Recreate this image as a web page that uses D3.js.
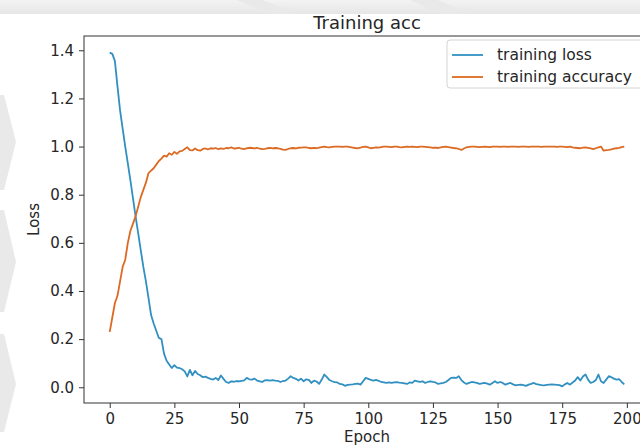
<!DOCTYPE html>
<html>
<head>
<meta charset="utf-8">
<script src="https://cdn.jsdelivr.net/npm/d3@7"></script>
<style>
  body { margin: 0; background: #fff; }
  text { font-family: "DejaVu Sans", sans-serif; fill: #262626; }
</style>
</head>
<body>
<svg id="graph" width="640" height="446"></svg>
<script>
// training loss per epoch (0..199)
const lossValues = [
  1.390, 1.385, 1.355, 1.250, 1.150, 1.075, 1.000, 0.930, 0.860, 0.785,
  0.710, 0.640, 0.570, 0.500, 0.440, 0.370, 0.300, 0.265, 0.235, 0.205,
  0.200, 0.140, 0.110, 0.095, 0.080, 0.092, 0.082, 0.080, 0.075, 0.066,
  0.045, 0.072, 0.050, 0.068, 0.055, 0.050, 0.042, 0.044, 0.039, 0.035,
  0.032, 0.039, 0.030, 0.049, 0.035, 0.022, 0.018, 0.025, 0.023, 0.026,
  0.025, 0.027, 0.029, 0.039, 0.033, 0.032, 0.036, 0.028, 0.025, 0.022,
  0.029, 0.030, 0.028, 0.030, 0.028, 0.027, 0.022, 0.026, 0.028, 0.036,
  0.046, 0.039, 0.035, 0.028, 0.036, 0.025, 0.033, 0.031, 0.018, 0.028,
  0.024, 0.014, 0.032, 0.053, 0.042, 0.030, 0.025, 0.021, 0.020, 0.014,
  0.012, 0.006, 0.010, 0.011, 0.012, 0.014, 0.015, 0.011, 0.025, 0.039,
  0.035, 0.031, 0.028, 0.031, 0.027, 0.022, 0.020, 0.018, 0.020, 0.018,
  0.020, 0.021, 0.019, 0.018, 0.016, 0.014, 0.020, 0.018, 0.028, 0.025,
  0.022, 0.025, 0.018, 0.022, 0.025, 0.022, 0.020, 0.014, 0.016, 0.018,
  0.022, 0.030, 0.039, 0.040, 0.039, 0.046, 0.030, 0.020, 0.014, 0.018,
  0.022, 0.020, 0.018, 0.014, 0.016, 0.018, 0.015, 0.011, 0.018, 0.025,
  0.018, 0.022, 0.018, 0.011, 0.015, 0.018, 0.012, 0.008, 0.010, 0.011,
  0.009, 0.006, 0.011, 0.014, 0.018, 0.013, 0.011, 0.009, 0.008, 0.010,
  0.011, 0.012, 0.011, 0.010, 0.009, 0.004, 0.012, 0.018, 0.011, 0.020,
  0.028, 0.042, 0.028, 0.045, 0.053, 0.032, 0.018, 0.022, 0.030, 0.053,
  0.025, 0.018, 0.032, 0.046, 0.042, 0.036, 0.032, 0.034, 0.022, 0.012
];

// training accuracy per epoch (0..199)
const accValues = [
  0.230, 0.290, 0.350, 0.380, 0.440, 0.500, 0.530, 0.600, 0.650, 0.680,
  0.710, 0.750, 0.790, 0.820, 0.850, 0.890, 0.900, 0.910, 0.925, 0.940,
  0.950, 0.962, 0.958, 0.972, 0.966, 0.978, 0.970, 0.980, 0.982, 0.990,
  0.997, 0.985, 0.984, 0.992, 0.985, 0.983, 0.990, 0.992, 0.988, 0.993,
  0.991, 0.994, 0.989, 0.992, 0.990, 0.994, 0.993, 0.997, 0.992, 0.993,
  0.995, 0.991, 0.989, 0.993, 0.995, 0.994, 0.992, 0.995, 0.991, 0.989,
  0.990, 0.993, 0.995, 0.992, 0.994, 0.993, 0.990, 0.987, 0.986, 0.990,
  0.993, 0.994, 0.992, 0.995, 0.996, 0.997, 0.997, 0.994, 0.993, 0.995,
  0.993, 0.996, 0.998, 1.000, 0.998, 0.997, 0.999, 1.000, 1.000, 1.000,
  0.999, 1.000, 1.000, 0.998, 0.996, 0.994, 0.993, 0.996, 0.999, 1.000,
  0.997, 0.993, 0.995, 0.997, 0.996, 0.998, 1.000, 1.000, 0.999, 0.998,
  1.000, 1.000, 0.998, 0.997, 0.999, 1.000, 0.999, 1.000, 0.999, 0.998,
  1.000, 1.000, 0.999, 0.998, 0.997, 0.995, 0.996, 0.994, 0.997, 0.999,
  1.000, 0.998, 0.996, 0.994, 0.993, 0.990, 0.986, 0.992, 0.997, 0.999,
  1.000, 1.000, 0.999, 0.998, 0.999, 1.000, 0.999, 0.998, 1.000, 1.000,
  1.000, 0.999, 1.000, 1.000, 0.999, 1.000, 1.000, 1.000, 0.999, 1.000,
  1.000, 1.000, 0.999, 1.000, 1.000, 1.000, 1.000, 0.999, 1.000, 1.000,
  1.000, 1.000, 1.000, 0.999, 1.000, 1.000, 0.999, 0.998, 1.000, 0.997,
  0.995, 0.994, 0.993, 0.996, 0.997, 0.995, 0.992, 0.989, 0.993, 0.997,
  1.000, 0.983, 0.985, 0.986, 0.988, 0.991, 0.993, 0.995, 0.998, 1.000
];

const epochs = lossValues.map((d, i) => i);
const xTicks = [0, 25, 50, 75, 100, 125, 150, 175, 200];
const yTicks = [0.0, 0.2, 0.4, 0.6, 0.8, 1.0, 1.2, 1.4];

const seriesNames = ["training loss", "training accuracy"];
const seriesColors = ["#3190c2", "#dc6a22"];

const svg = d3.select("#graph");

// faint watermark shapes of the original screenshot
const defs = svg.append("defs");
const grad = defs.append("linearGradient").attr("id", "topband")
  .attr("x1", 0).attr("y1", 0).attr("x2", 0).attr("y2", 1);
grad.append("stop").attr("offset", "0%").attr("stop-color", "#f3f3f3");
grad.append("stop").attr("offset", "100%").attr("stop-color", "#e6e6e6");
svg.append("rect").attr("x", 0).attr("y", 0).attr("width", 640).attr("height", 14)
  .attr("fill", "url(#topband)");
const marks = [
  [[0, 95], [4, 95], [16, 142], [4, 190], [0, 190]],
  [[0, 210], [4, 210], [16, 262], [4, 312], [0, 312]],
  [[0, 334], [4, 334], [16, 384], [4, 432], [0, 432]],
  [[236, 0], [262, 0], [300, 14], [270, 14]],
  [[410, 0], [438, 0], [470, 14], [440, 14]]
];
svg.append("g").selectAll("polygon").data(marks).join("polygon")
  .attr("points", (d) => d.map((p) => p.join(",")).join(" "))
  .attr("fill", "#e9e9e9");

const margin = { top: 36, bottom: 403, left: 84, right: 650 };

const x = d3.scaleLinear()
  .domain([-9.95, 208.95])
  .range([margin.left, margin.right]);

const allVals = lossValues.concat(accValues);
const lo = d3.min(allVals), hi = d3.max(allVals);
const pad = (hi - lo) * 0.05;
const y = d3.scaleLinear()
  .domain([lo - pad, hi + pad])
  .range([margin.bottom, margin.top]);

// lines
const line = d3.line()
  .x((d, i) => x(epochs[i]))
  .y((d) => y(d));

[lossValues, accValues].forEach((vals, k) => {
  svg.append("path")
    .datum(vals)
    .attr("fill", "none")
    .attr("stroke", seriesColors[k])
    .attr("stroke-width", 1.8)
    .attr("stroke-linejoin", "round")
    .attr("d", line);
});

// axes
const xAxis = svg.append("g")
  .attr("transform", `translate(0,${margin.bottom})`)
  .call(d3.axisBottom(x).tickValues(xTicks).tickSize(5).tickPadding(5).tickFormat(d3.format("d")));
const yAxis = svg.append("g")
  .attr("transform", `translate(${margin.left},0)`)
  .call(d3.axisLeft(y).tickValues(yTicks).tickSize(5).tickPadding(5).tickFormat(d3.format(".1f")));

[xAxis, yAxis].forEach((g) => {
  g.select(".domain").remove();
  g.selectAll("line").attr("stroke", "#333");
  g.selectAll("text").attr("font-size", 15).attr("fill", "#262626")
    .style("font-family", "DejaVu Sans, sans-serif");
});

// spines
svg.append("rect")
  .attr("x", margin.left).attr("y", margin.top)
  .attr("width", margin.right - margin.left)
  .attr("height", margin.bottom - margin.top)
  .attr("fill", "none").attr("stroke", "#333").attr("stroke-width", 1);

// title and labels
svg.append("text")
  .attr("x", (margin.left + margin.right) / 2).attr("y", 29)
  .attr("text-anchor", "middle").attr("font-size", 18)
  .text("Training acc");
svg.append("text")
  .attr("x", (margin.left + margin.right) / 2).attr("y", 442)
  .attr("text-anchor", "middle").attr("font-size", 15)
  .text("Epoch");
svg.append("text")
  .attr("transform", `translate(39,${(margin.top + margin.bottom) / 2}) rotate(-90)`)
  .attr("text-anchor", "middle").attr("font-size", 15)
  .text("Loss");

// legend
const legend = svg.append("g").attr("transform", "translate(447,40)");
legend.append("rect")
  .attr("width", 197).attr("height", 48).attr("rx", 3)
  .attr("fill", "#fff").attr("fill-opacity", 0.85)
  .attr("stroke", "#d4d4d4");
const items = legend.selectAll("g.item").data(seriesNames).join("g")
  .attr("class", "item")
  .attr("transform", (d, i) => `translate(0,${15 + i * 22})`);
items.append("line")
  .attr("x1", 5).attr("x2", 36)
  .attr("stroke", (d, i) => seriesColors[i]).attr("stroke-width", 1.8);
items.append("text")
  .attr("x", 50).attr("dy", "0.35em").attr("font-size", 15.5)
  .text((d) => d);
</script>
</body>
</html>
